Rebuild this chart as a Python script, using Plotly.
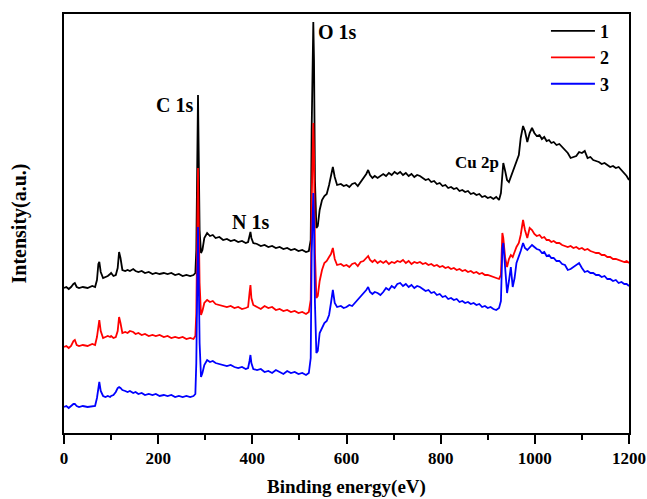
import plotly.graph_objects as go

# Binding energy grid (eV), shared by the three spectra
energy = [
    0, 5, 10, 15, 20, 23, 27, 32, 40, 50,
    60, 66, 70, 73, 75, 78, 83, 88, 93, 98,
    100, 105, 110, 114, 117, 120, 124, 130, 135, 140,
    147, 152, 158, 165, 172, 180, 188, 195, 203, 212,
    220, 228, 236, 244, 252, 260, 268, 275, 279, 281,
    283, 284.6, 286, 288, 291, 294, 298, 304, 310, 316,
    322, 330, 338, 346, 354, 362, 370, 378, 386, 391,
    394, 396, 398, 402, 410, 418, 426, 434, 442, 450,
    458, 466, 474, 482, 490, 498, 506, 514, 520, 524,
    526, 528, 529.5, 531, 533, 536, 539, 543, 548, 553,
    558, 563, 567, 571, 575, 580, 588, 594, 600, 606,
    612, 618, 624, 630, 636, 642, 646, 650, 655, 660,
    666, 672, 678, 684, 690, 696, 702, 708, 714, 720,
    726, 732, 738, 744, 750, 756, 762, 768, 774, 780,
    786, 792, 798, 804, 810, 816, 822, 828, 834, 840,
    846, 852, 858, 864, 870, 876, 882, 888, 894, 900,
    906, 912, 918, 924, 928, 931, 933, 937, 941, 945,
    949, 953, 957, 961, 966, 970, 975, 979, 984, 989,
    994, 999, 1004, 1010, 1015, 1020, 1025, 1030, 1035, 1040,
    1046, 1052, 1058, 1064, 1070, 1076, 1082, 1088, 1094, 1100,
    1106, 1112, 1118, 1124, 1130, 1136, 1142, 1148, 1154, 1160,
    1166, 1172, 1178, 1184, 1190, 1195, 1200,
]

intensity_1 = [
    145, 146, 144, 146, 149, 150, 146, 145, 146, 145,
    147, 146, 153, 169, 171, 161, 155, 156, 157, 159,
    160, 157, 158, 165, 181, 175, 163, 162, 163, 162,
    164, 162, 161, 162, 160, 161, 159, 160, 159, 160,
    159, 160, 158, 159, 157, 158, 157, 158, 160, 183,
    303, 338, 283, 203, 180, 183, 195, 200, 197, 198,
    195, 196, 193, 194, 192, 193, 191, 192, 190, 191,
    197, 201, 195, 190, 189, 187, 188, 186, 187, 185,
    186, 184, 185, 183, 184, 182, 183, 181, 182, 193,
    303, 393, 411, 373, 253, 205, 207, 223, 233, 237,
    239, 248, 258, 266, 256, 248, 249, 247, 248, 246,
    249, 250, 247, 251, 255, 259, 263, 258, 255, 257,
    255, 257, 259, 257, 260, 258, 261, 259, 261, 258,
    260, 257, 259, 256, 258, 257, 255, 253, 254, 251,
    252, 249, 250, 247, 248, 245, 246, 244, 245, 242,
    243, 241, 242, 239, 240, 238, 239, 236, 237, 235,
    236, 234, 236, 233, 240, 266, 270, 262, 253, 251,
    256, 262, 268, 273, 278, 295, 307, 302, 291, 300,
    305, 300, 297, 298, 294, 296, 292, 293, 290, 291,
    288, 289, 286, 284, 280, 275, 276, 277, 281, 280,
    282, 275, 276, 273, 272, 271, 269, 270, 268, 266,
    267, 265, 266, 263, 260, 257, 253,
]

intensity_2 = [
    86, 87, 85, 87, 92, 93, 88, 87, 88, 87,
    89, 88, 96, 111, 113, 102, 95, 96, 97, 96,
    97, 95, 96, 102, 116, 110, 100, 101, 100, 102,
    101, 99, 100, 98, 99, 97, 98, 97, 98, 96,
    97, 95, 96, 95, 96, 94, 95, 94, 97, 120,
    230, 265, 215, 150, 118, 122, 130, 133, 131, 132,
    129, 128, 127, 126, 127, 125, 126, 124, 125, 126,
    140, 148, 135, 128, 126, 124, 127, 125, 126, 123,
    124, 122, 123, 121, 122, 120, 121, 119, 121, 133,
    230, 295, 310, 280, 180, 135, 137, 152, 163, 170,
    172, 176, 179, 185, 174, 168, 169, 167, 168, 166,
    169, 170, 167, 171, 172, 175, 177, 173, 171, 173,
    170, 172, 170, 172, 169, 171, 170, 172, 171, 173,
    170, 172, 169, 171, 170, 171, 169, 170, 168, 169,
    167, 168, 166, 167, 165, 166, 164, 165, 163, 164,
    162, 163, 161, 162, 160, 161, 159, 160, 158, 158,
    157, 156, 155, 154, 158, 200, 195, 175, 166, 174,
    178, 176, 181, 186, 190, 198, 213, 203, 195, 205,
    203, 199, 197, 198, 195, 196, 193, 193, 191, 192,
    190, 190, 188, 187, 186, 187, 185, 186, 184, 185,
    183, 184, 182, 181, 180, 180, 178, 178, 176, 176,
    174, 174, 173, 172, 171, 172, 170,
]

intensity_3 = [
    26, 27, 25, 27, 29, 29, 27, 26, 27, 26,
    27, 27, 35, 49, 51, 42, 37, 36, 37, 36,
    37, 38, 41, 45, 46, 45, 43, 42, 41, 42,
    40, 41, 39, 40, 38, 39, 38, 39, 37, 38,
    37, 38, 36, 37, 36, 37, 36, 37, 39, 70,
    170, 206, 160, 90, 56, 60, 68, 73, 71, 72,
    70, 69, 68, 67, 68, 66, 65, 66, 64, 65,
    72, 78, 70, 64, 63, 64, 61, 62, 60, 63,
    61, 59, 62, 60, 61, 59, 60, 58, 60, 75,
    180, 225, 240, 210, 130, 80, 82, 100, 105, 110,
    112, 118, 130, 143, 130, 126, 127, 125, 126, 128,
    127, 130, 133, 136, 139, 143, 146, 141, 139, 141,
    140, 138, 141, 145, 143, 147, 145, 149, 150, 147,
    149, 146, 148, 145, 147, 146, 144, 142, 143, 140,
    141, 138, 139, 136, 137, 134, 135, 133, 134, 131,
    132, 130, 131, 129, 130, 128, 129, 126, 127, 125,
    126, 124, 123, 125, 132, 185, 190, 165, 140, 152,
    166, 146, 155, 170, 176, 182, 190, 185, 183, 186,
    188, 186, 184, 183, 180, 181, 177, 178, 175, 175,
    172, 172, 169, 168, 163, 164, 166, 168, 170, 165,
    161, 162, 160, 160, 158, 158, 156, 157, 154, 154,
    152, 153, 150, 151, 149, 149, 147,
]

series_names = ["1", "2", "3"]
series_colors = ["#000000", "#ff0000", "#0000ff"]

peak_labels = ["C 1s", "N 1s", "O 1s", "Cu 2p"]
peak_label_x = [234, 397, 580, 877]
peak_label_y = [328, 211, 401, 271]
peak_label_size = [20, 20, 20, 17]

x_ticks = [0, 200, 400, 600, 800, 1000, 1200]

assert len(energy) == len(intensity_1) == len(intensity_2) == len(intensity_3)

FONT = "Liberation Serif, Times New Roman, serif"

fig = go.Figure()
for name, color, vals in zip(series_names, series_colors,
                             [intensity_1, intensity_2, intensity_3]):
    fig.add_trace(go.Scatter(x=energy, y=vals, mode="lines", name=name,
                             line=dict(color=color, width=1.8)))

for txt, px, py, sz in zip(peak_labels, peak_label_x, peak_label_y, peak_label_size):
    fig.add_annotation(x=px, y=py, xref="x", yref="y", text=txt, showarrow=False,
                       font=dict(family=FONT, size=sz, color="black", weight="bold"))

fig.update_layout(
    width=647, height=499,
    margin=dict(l=64, r=18, t=14, b=66, pad=0),
    plot_bgcolor="white", paper_bgcolor="white",
    font=dict(family=FONT, color="black"),
    showlegend=True,
    legend=dict(x=0.853, xanchor="left", y=1.003, yanchor="top",
                bgcolor="rgba(0,0,0,0)", borderwidth=0, itemwidth=44,
                font=dict(family=FONT, size=18, color="black", weight="bold"),
                tracegroupgap=0),
    xaxis=dict(range=[0, 1200], tickvals=x_ticks, ticks="outside", ticklen=9,
               tickwidth=2, tickcolor="black", showline=True, linewidth=2,
               linecolor="black", mirror=True, showgrid=False, zeroline=False,
               tickfont=dict(family=FONT, size=17, color="black", weight="bold"),
               minor=dict(dtick=100, ticks="outside", ticklen=5, tickwidth=2,
                          tickcolor="black", showgrid=False),
               title=dict(text="Binding energy(eV)", standoff=12,
                          font=dict(family=FONT, size=19, color="black", weight="bold")),
               automargin=False),
    yaxis=dict(range=[0, 419], showticklabels=False, ticks="", showline=True,
               linewidth=2, linecolor="black", mirror=True, showgrid=False,
               zeroline=False,
               title=dict(text="Intensity(a.u.)", standoff=30,
                          font=dict(family=FONT, size=20, color="black", weight="bold")),
               automargin=False),
)

fig.write_html("out.html")
